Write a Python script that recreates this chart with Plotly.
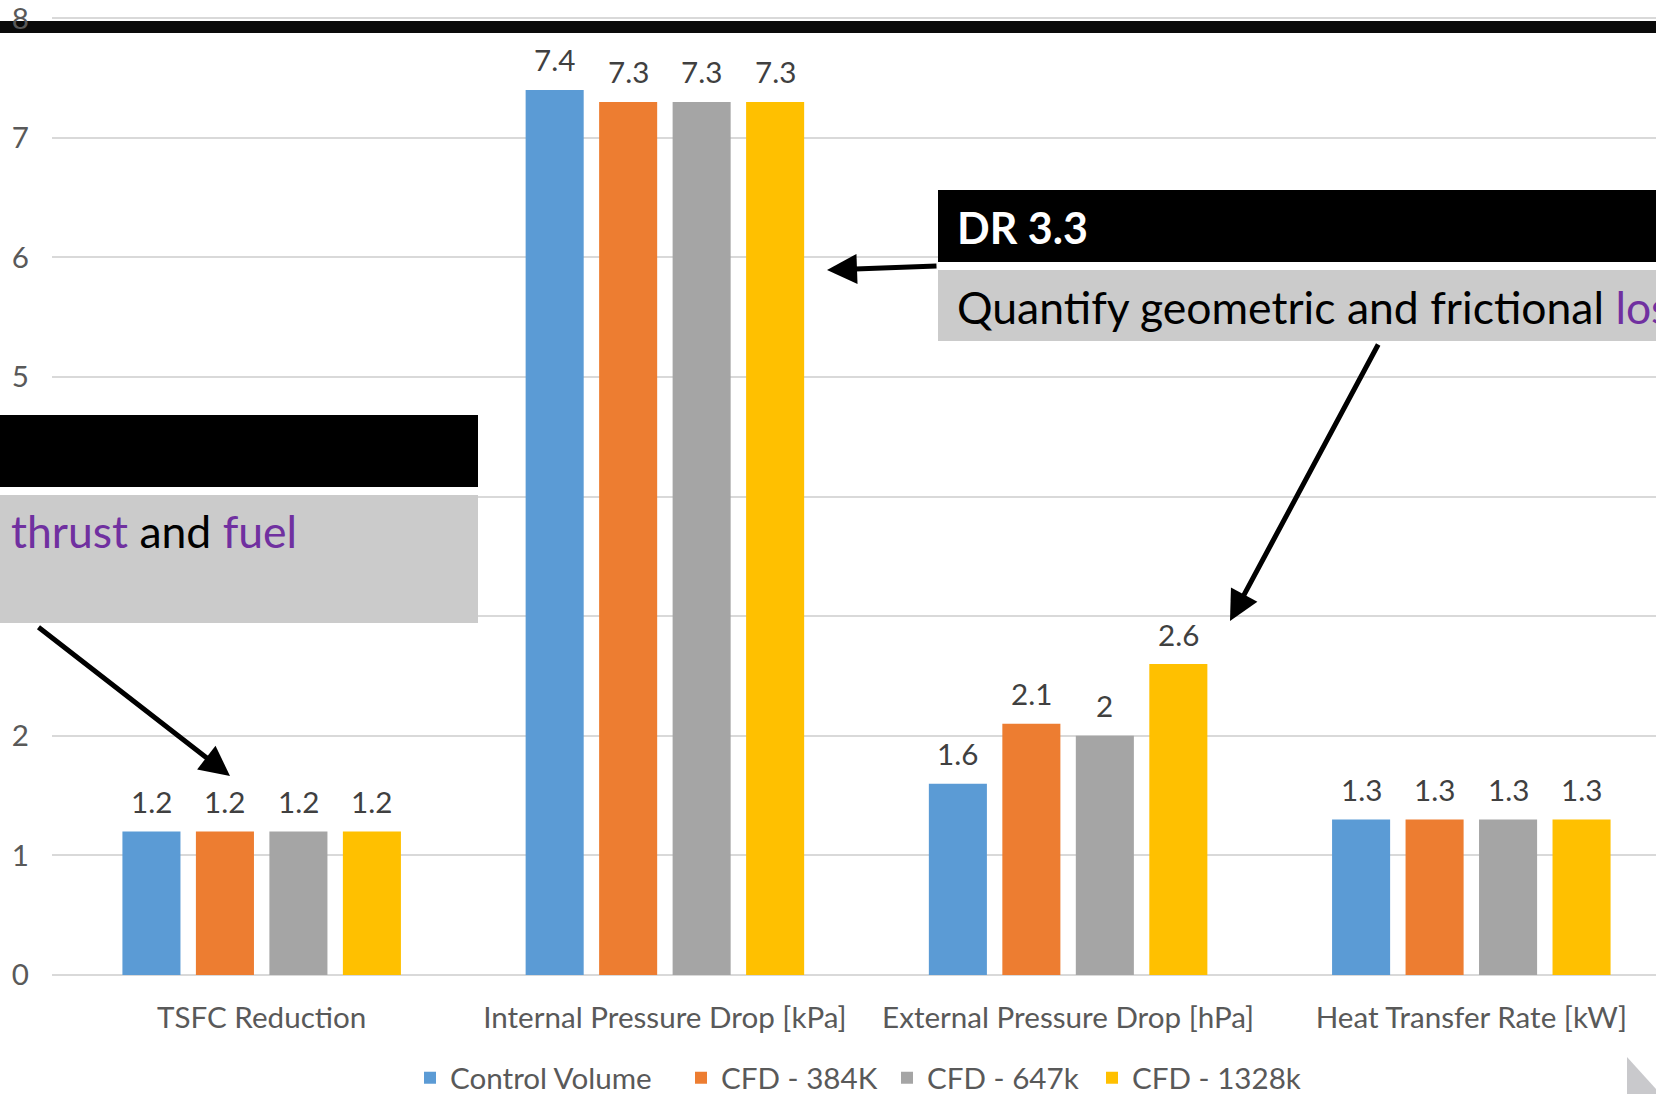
import plotly.graph_objects as go

# ---- data ----
categories = ["TSFC Reduction", "Internal Pressure Drop [kPa]",
              "External Pressure Drop [hPa]", "Heat Transfer Rate [kW]"]
series_names = ["Control Volume", "CFD - 384K", "CFD - 647k", "CFD - 1328k"]
control_volume = [1.2, 7.4, 1.6, 1.3]
cfd_384k = [1.2, 7.3, 2.1, 1.3]
cfd_647k = [1.2, 7.3, 2.0, 1.3]
cfd_1328k = [1.2, 7.3, 2.6, 1.3]
y_ticks = [0, 1, 2, 3, 4, 5, 6, 7, 8]

series_values = [control_volume, cfd_384k, cfd_647k, cfd_1328k]
colors = ["#5B9BD5", "#ED7D31", "#A5A5A5", "#FFC000"]

# ---- layout geometry ----
W, H = 1656, 1094
L, R, T, B = 52, 0, 0, 119
PW, PH = W - L - R, H - T - B
UNIT = 119.6
BARGAP, GROUPGAP = 0.271, 0.21
FONT = "Lato"
CH_SIZE = 29.6
BOX_SIZE = 44.5
legend_text_x = [450, 721, 927, 1132]   # pixel where each legend label starts


def xp(px):
    return (px - L) / PW


def yp(py):
    return (H - B - py) / PH


legend_ids = ["legend", "legend2", "legend3", "legend4"]
fig = go.Figure()
for name, vals, col, lg in zip(series_names, series_values, colors, legend_ids):
    fig.add_trace(go.Bar(x=categories, y=vals, name=name, legend=lg,
                         marker=dict(color=col, line=dict(width=0))))

# data labels above bars
pitch = (1 - BARGAP) / len(series_names)
annotations = []
for k, vals in enumerate(series_values):
    for i, v in enumerate(vals):
        annotations.append(dict(
            x=i + (k - (len(series_names) - 1) / 2) * pitch, y=v, xref="x", yref="y",
            text=f"{v:g}", showarrow=False, yshift=30, yanchor="middle",
            font=dict(family=FONT, size=CH_SIZE, color="#404040")))

shapes = []
# top black band (below the tick labels, the "8" is drawn over it)
shapes.append(dict(type="rect", xref="paper", yref="paper", x0=xp(0), x1=xp(W), y0=yp(21), y1=yp(33),
                   fillcolor="#0a0a0a", line=dict(width=0), layer="below"))
# right box
shapes.append(dict(type="rect", xref="paper", yref="paper", x0=xp(938), x1=xp(W), y0=yp(190), y1=yp(341),
                   fillcolor="#ffffff", line=dict(width=0), layer="above"))
shapes.append(dict(type="rect", xref="paper", yref="paper", x0=xp(938), x1=xp(W), y0=yp(190), y1=yp(262),
                   fillcolor="#000000", line=dict(width=0), layer="above"))
shapes.append(dict(type="rect", xref="paper", yref="paper", x0=xp(938), x1=xp(W), y0=yp(270), y1=yp(341),
                   fillcolor="#cbcbcb", line=dict(width=0), layer="above"))
# left box
shapes.append(dict(type="rect", xref="paper", yref="paper", x0=xp(0), x1=xp(478), y0=yp(415), y1=yp(631),
                   fillcolor="#ffffff", line=dict(width=0), layer="above"))
shapes.append(dict(type="rect", xref="paper", yref="paper", x0=xp(0), x1=xp(478), y0=yp(415), y1=yp(487),
                   fillcolor="#000000", line=dict(width=0), layer="above"))
shapes.append(dict(type="rect", xref="paper", yref="paper", x0=xp(0), x1=xp(478), y0=yp(495), y1=yp(623),
                   fillcolor="#cbcbcb", line=dict(width=0), layer="above"))
# bottom-right corner triangle
tri = [(1627, 1057), (1656, 1089), (1656, 1094), (1627, 1094)]
path = "M " + " L ".join(f"{xp(a):.5f},{yp(b):.5f}" for a, b in tri) + " Z"
shapes.append(dict(type="path", xref="paper", yref="paper", path=path,
                   fillcolor="#c9c9cc", line=dict(width=0), layer="above"))

# box texts
annotations.append(dict(xref="paper", yref="paper", x=xp(955), y=yp(228), xanchor="left", yanchor="middle",
                        text="<b>DR 3.3</b>", showarrow=False,
                        font=dict(family=FONT, size=43, color="#ffffff")))
annotations.append(dict(xref="paper", yref="paper", x=xp(955), y=yp(306), xanchor="left", yanchor="middle",
                        text='Quantify geometric and frictional <span style="color:#7030A0">losses</span>',
                        showarrow=False, font=dict(family=FONT, size=BOX_SIZE, color="#000000")))
annotations.append(dict(xref="paper", yref="paper", x=xp(9), y=yp(530), xanchor="left", yanchor="middle",
                        text='<span style="color:#7030A0">thrust</span> and <span style="color:#7030A0">fuel</span>',
                        showarrow=False, font=dict(family=FONT, size=BOX_SIZE, color="#000000")))

# arrows (head position, tail position in pixels)
arrows = [((827, 270), (938, 266)), ((1230, 621), (1379, 343)), ((230, 776), (37, 626))]
for (hx, hy), (tx, ty) in arrows:
    annotations.append(dict(xref="paper", yref="paper", x=xp(hx), y=yp(hy), ax=tx - hx, ay=ty - hy,
                            text="", showarrow=True, arrowhead=2, arrowsize=1.2, arrowwidth=5,
                            arrowcolor="#000000", standoff=0, startstandoff=0))

legend_layouts = {}
for lg, tx in zip(legend_ids, legend_text_x):
    legend_layouts[lg] = dict(orientation="h", x=xp(tx - 40), y=yp(1078), xanchor="left", yanchor="middle",
                              font=dict(family=FONT, size=CH_SIZE, color="#595959"),
                              bgcolor="rgba(0,0,0,0)", borderwidth=0)

fig.update_layout(
    template="none",
    width=W, height=H,
    margin=dict(l=L, r=R, t=T, b=B, autoexpand=False),
    paper_bgcolor="#ffffff", plot_bgcolor="rgba(0,0,0,0)",
    barmode="group", bargap=BARGAP, bargroupgap=GROUPGAP,
    font=dict(family=FONT, size=CH_SIZE, color="#595959"),
    showlegend=True,
    xaxis=dict(type="category", range=[-0.52, 3.458], showgrid=False, showline=False, zeroline=False,
               ticks="", ticklabelstandoff=22, ticklabeloverflow="allow",
               tickfont=dict(family=FONT, size=CH_SIZE, color="#595959")),
    yaxis=dict(range=[0, (H - B - T) / UNIT], tickvals=y_ticks, showgrid=True, gridcolor="#d9d9d9",
               gridwidth=1.6, zeroline=True, zerolinecolor="#d9d9d9", zerolinewidth=1.6,
               showline=False, ticks="", ticklabelstandoff=22, ticklabeloverflow="allow",
               tickfont=dict(family=FONT, size=CH_SIZE, color="#595959")),
    shapes=shapes, annotations=annotations,
    **legend_layouts,
)

fig.write_html("out.html", config={"displayModeBar": False},
               post_script="document.body.style.margin='0';document.body.style.overflow='hidden';")
